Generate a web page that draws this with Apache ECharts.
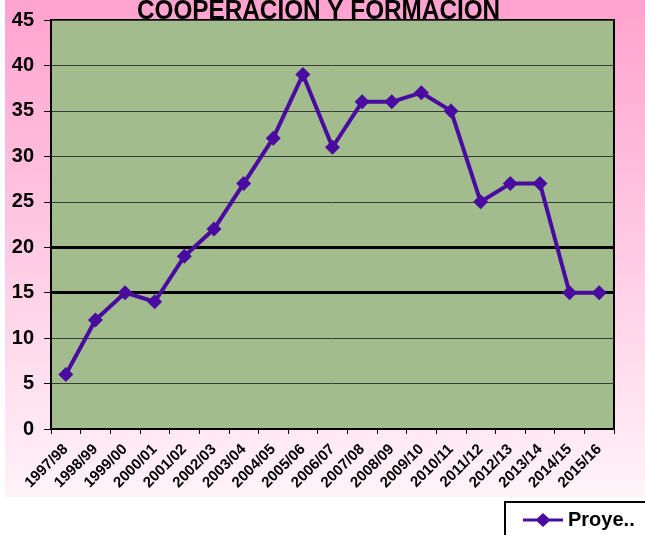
<!DOCTYPE html>
<html>
<head>
<meta charset="utf-8">
<script src="https://cdn.jsdelivr.net/npm/echarts@6/dist/echarts.min.js"></script>
<style>
  html, body { margin: 0; padding: 0; background: #fff; }
  #bg {
    position: absolute; left: 5px; top: 0; width: 640px; height: 497px;
    background: linear-gradient(#ffa2cf, #fff3f8);
  }
  #chart { position: absolute; left: 0; top: 0; width: 645px; height: 535px; }
</style>
</head>
<body>
<div id="bg"></div>
<div id="chart"></div>
<script>
var categories = ["1997/98", "1998/99", "1999/00", "2000/01", "2001/02", "2002/03", "2003/04",
  "2004/05", "2005/06", "2006/07", "2007/08", "2008/09", "2009/10", "2010/11", "2011/12",
  "2012/13", "2013/14", "2014/15", "2015/16"];
var proyectos = [6, 12, 15, 14, 19, 22, 27, 32, 39, 31, 36, 36, 37, 35, 25, 27, 27, 15, 15];
var thickLines = [15, 20];

var chart = echarts.init(document.getElementById("chart"));
chart.setOption({
  backgroundColor: "transparent",
  animation: false,
  graphic: [{
    type: "text", left: 137, top: -2, z: 100,
    scaleX: 0.9,
    style: {
      text: "COOPERACION Y FORMACION",
      font: "bold 27px 'Liberation Sans'", fill: "#000"
    }
  }],
  grid: {
    left: 51, right: 31, top: 20, bottom: 106,
    show: true, backgroundColor: "#a2bc8e", borderColor: "#000", borderWidth: 2
  },
  legend: {
    left: 505, top: 502, padding: [8, 60, 20, 18],
    borderColor: "#000", borderWidth: 2, backgroundColor: "#fff",
    itemWidth: 40, itemHeight: 14,
    data: [{ name: "Proye..", icon: "path://M0,5.5 L14,5.5 L20,0 L26,5.5 L40,5.5 L40,8.5 L26,8.5 L20,14 L14,8.5 L0,8.5 Z" }],
    textStyle: { fontFamily: "Liberation Sans", fontWeight: "bold", fontSize: 20, color: "#000" }
  },
  xAxis: {
    type: "category", data: categories, boundaryGap: true,
    axisLine: { lineStyle: { color: "#000", width: 2 } },
    axisTick: { show: true, alignWithLabel: false, length: 5, lineStyle: { color: "#000" } },
    axisLabel: {
      rotate: 45, interval: 0, margin: 18, color: "#000",
      fontFamily: "Liberation Sans", fontWeight: "bold", fontSize: 15
    },
    splitLine: { show: false }
  },
  yAxis: {
    type: "value", min: 0, max: 45, interval: 5,
    axisLine: { show: true, lineStyle: { color: "#000", width: 2 } },
    axisTick: { show: true, length: 7, lineStyle: { color: "#000" } },
    axisLabel: { margin: 17, color: "#000", fontFamily: "Liberation Sans", fontWeight: "bold", fontSize: 20 },
    splitLine: { lineStyle: { color: "#3a3a3a", width: 1 } }
  },
  series: [{
    name: "Proye..",
    type: "line",
    data: proyectos,
    color: "#4a0ca0",
    lineStyle: { width: 4, color: "#4a0ca0" },
    symbol: "diamond", symbolSize: 15,
    itemStyle: { color: "#4a0ca0" },
    z: 5,
    markLine: {
      silent: true, symbol: "none", label: { show: false },
      lineStyle: { color: "#000", width: 3, type: "solid" },
      data: thickLines.map(function (v) { return { yAxis: v }; }),
      z: 1
    }
  }]
});
</script>
</body>
</html>
